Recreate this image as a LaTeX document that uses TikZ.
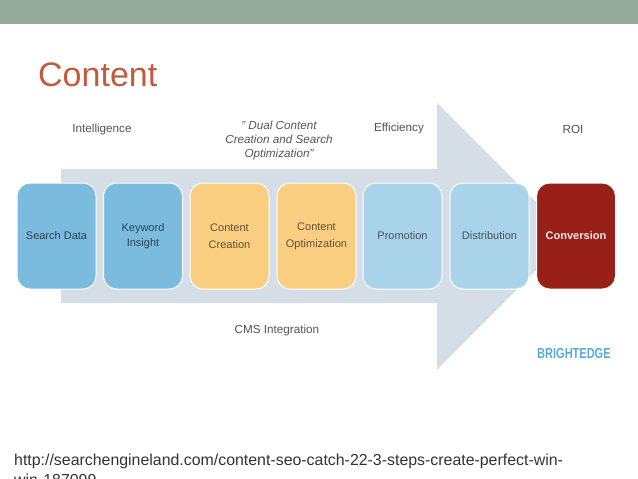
\documentclass[tikz,border=0pt]{standalone}
\usepackage{graphicx}
\usepackage{fontspec}
\setmainfont{Liberation Sans}
\definecolor{bandc}{HTML}{94A89C}
\definecolor{titlec}{HTML}{C25A3E}
\definecolor{arrowc}{HTML}{D5DDE6}
\definecolor{blued}{HTML}{7BBCDE}
\definecolor{bluel}{HTML}{A9D3E9}
\definecolor{orangec}{HTML}{F9CE80}
\definecolor{redc}{HTML}{982018}
\definecolor{labelc}{HTML}{555555}
\definecolor{brandc}{HTML}{5AAADC}
\tikzset{
  x=1pt,y=-1pt,
  stage/.style={rounded corners=13pt,minimum width=79pt,minimum height=106pt,inner sep=0pt,
    draw=white,line width=1pt,align=center,text=#1,font=\fontsize{11}{17}\selectfont,anchor=center},
  cap label/.style={text=labelc,font=\fontsize{11.7}{13.7}\selectfont,align=center,inner sep=0pt},
}
\begin{document}
\begin{tikzpicture}
\useasboundingbox (0,0) rectangle (638,479);
\clip (0,0) rectangle (638,479);
\fill[white] (0,0) rectangle (638,479);
\fill[bandc] (0,0) rectangle (638,24);
\node[text=titlec,font=\fontsize{34}{40}\selectfont,inner sep=0pt,anchor=base west] (title) at (38,86) {Content};
\fill[arrowc] (61,169) -- (437,169) -- (437,103) -- (570,236) -- (437,370) -- (437,303) -- (61,303) -- cycle;
\node[stage=black!65!blued,fill=blued] (search) at (56.5,236) {Search Data};
\node[stage=black!65!blued,fill=blued,font=\fontsize{11}{14.5}\selectfont] (keyword) at (143,236) {Keyword\\Insight};
\node[stage=black!60!orangec,fill=orangec] (creation) at (229.5,236) {Content\\Creation};
\node[stage=black!60!orangec,fill=orangec] (optim) at (316.5,236) {Content\\Optimization};
\node[stage=black!60!bluel,fill=bluel] (promo) at (402.5,236) {Promotion};
\node[stage=black!60!bluel,fill=bluel] (dist) at (489.5,236) {Distribution};
\node[stage=white!90!redc,fill=redc,font=\fontsize{11}{17}\bfseries\selectfont] (conv) at (576,236) {Conversion};
\node[cap label] (intel) at (102,129.5) {Intelligence};
\node[cap label,font=\fontsize{11.7}{13.7}\itshape\selectfont] (dual) at (279,140.5) {" Dual Content\\Creation and Search\\Optimization"};
\node[cap label] (eff) at (399,128.5) {Efficiency};
\node[cap label] (roi) at (573,129.5) {ROI};
\node[cap label] (cms) at (277,330) {CMS Integration};
\node[text=brandc,font=\fontsize{14.5}{16}\bfseries\selectfont,inner sep=0pt,anchor=base west] (brand) at (537,358.5) {\scalebox{.76}[1]{BRIGHTEDGE}};
\node[text=black!80,font=\fontsize{15.9}{20}\selectfont,inner sep=0pt,anchor=base west] (url1) at (14,465) {http://searchengineland.com/content-seo-catch-22-3-steps-create-perfect-win-};
\node[text=black!80,font=\fontsize{15.9}{20}\selectfont,inner sep=0pt,anchor=base west] (url2) at (14,485) {win-187099};
\end{tikzpicture}
\end{document}
